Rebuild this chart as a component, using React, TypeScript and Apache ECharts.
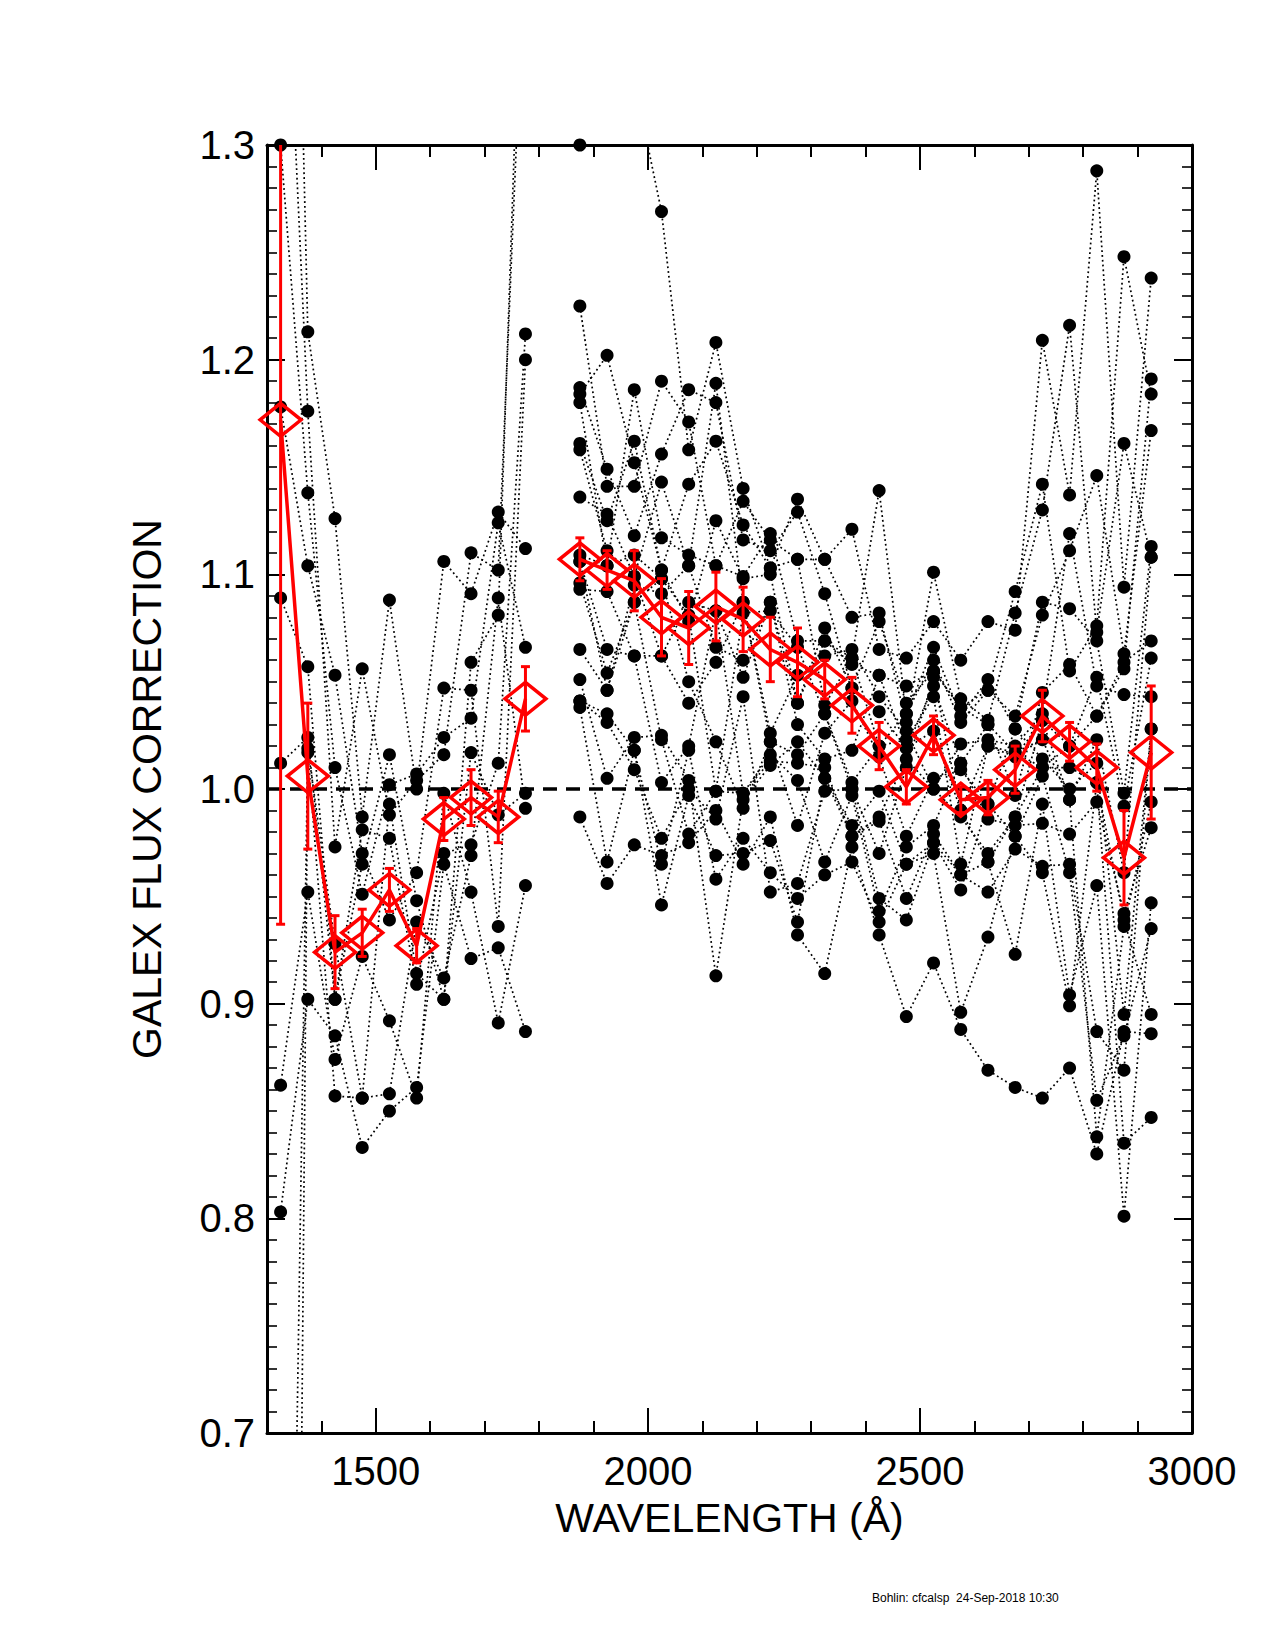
import React, { useEffect, useRef } from "react";
import * as echarts from "echarts";

// ---------- DATA ----------
// Short-wavelength segment: bin centres and the dot values seen in each bin (sorted high→low)
const leftWaves = [1325, 1375, 1425, 1475, 1525, 1575, 1625, 1675, 1725, 1775];
const leftColumns = [
  [1.75, 1.45, 1.3, 1.178, 1.089, 1.012, 0.862, 0.803, 0.22, -0.42],
  [1.213, 1.176, 1.138, 1.104, 1.057, 1.024, 1.019, 1.017, 0.952, 0.902],
  [1.126, 1.053, 1.01, 0.973, 0.928, 0.902, 0.902, 0.885, 0.874, 0.857],
  [1.056, 0.987, 0.981, 0.97, 0.965, 0.951, 0.922, 0.856, 0.856, 0.833],
  [1.088, 1.016, 1.002, 0.993, 0.988, 0.977, 0.939, 0.892, 0.858, 0.85],
  [1.007, 1.004, 1.0, 0.961, 0.948, 0.938, 0.914, 0.909, 0.861, 0.856],
  [1.106, 1.047, 1.024, 1.016, 0.998, 0.97, 0.965, 0.912, 0.902, 0.902],
  [1.11, 1.091, 1.059, 1.046, 1.033, 1.017, 0.974, 0.969, 0.952, 0.921],
  [1.129, 1.124, 1.102, 1.089, 1.081, 1.012, 0.988, 0.936, 0.926, 0.891],
  [1.45, 1.4, 1.212, 1.2, 1.112, 1.066, 0.998, 0.991, 0.955, 0.887],
];
// rank (index into the bin's list) taken by each star in each bin
const leftOrder = [
  [0, 1, 2, 3, 4, 5, 8, 9, 6, 7],
  [0, 1, 2, 3, 4, 5, 6, 7, 8, 9],
  [0, 3, 2, 1, 6, 5, 4, 9, 8, 7],
  [1, 0, 5, 3, 4, 2, 8, 7, 6, 9],
  [0, 4, 2, 6, 1, 5, 3, 8, 7, 9],
  [2, 1, 0, 3, 4, 7, 6, 5, 9, 8],
  [0, 3, 2, 1, 8, 5, 9, 7, 4, 6],
  [1, 0, 4, 3, 2, 6, 5, 7, 8, 9],
  [0, 2, 1, 7, 4, 5, 6, 3, 9, 8],
  [4, 1, 5, 3, 0, 2, 6, 7, 8, 9],
];

// Long-wavelength segment
const rightWaves = [
  1875, 1925, 1975, 2025, 2075, 2125, 2175, 2225, 2275, 2325, 2375, 2425, 2475, 2525,
  2575, 2625, 2675, 2725, 2775, 2825, 2875, 2925,
];
const rightColumns = [
  [1.3, 1.225, 1.187, 1.184, 1.18, 1.161, 1.158, 1.136, 1.109, 1.106, 1.106, 1.096, 1.093, 1.065, 1.051, 1.041, 1.041, 1.038, 0.987],
  [1.35, 1.202, 1.149, 1.141, 1.128, 1.125, 1.111, 1.104, 1.104, 1.092, 1.065, 1.054, 1.046, 1.046, 1.035, 1.031, 1.005, 0.966, 0.956],
  [1.33, 1.186, 1.162, 1.152, 1.141, 1.118, 1.109, 1.099, 1.099, 1.095, 1.087, 1.087, 1.062, 1.062, 1.024, 1.018, 1.018, 1.009, 0.974],
  [1.269, 1.19, 1.156, 1.143, 1.117, 1.102, 1.102, 1.098, 1.098, 1.091, 1.062, 1.062, 1.025, 1.023, 1.003, 0.977, 0.969, 0.965, 0.946],
  [1.186, 1.171, 1.158, 1.142, 1.109, 1.104, 1.104, 1.087, 1.081, 1.078, 1.05, 1.04, 1.02, 1.018, 1.004, 1.0, 0.997, 0.979, 0.975],
  [1.208, 1.189, 1.18, 1.162, 1.125, 1.104, 1.104, 1.083, 1.083, 1.066, 1.059, 1.022, 0.999, 0.999, 0.99, 0.986, 0.969, 0.958, 0.913],
  [1.14, 1.134, 1.123, 1.116, 1.099, 1.098, 1.087, 1.087, 1.082, 1.06, 1.052, 1.043, 0.998, 0.998, 0.995, 0.991, 0.977, 0.97, 0.965],
  [1.119, 1.116, 1.111, 1.103, 1.103, 1.1, 1.087, 1.087, 1.083, 1.026, 1.022, 1.022, 1.016, 1.013, 1.011, 0.987, 0.976, 0.961, 0.952],
  [1.135, 1.129, 1.107, 1.107, 1.069, 1.066, 1.053, 1.04, 1.04, 1.03, 1.022, 1.016, 1.012, 1.004, 0.983, 0.956, 0.949, 0.938, 0.932],
  [1.107, 1.107, 1.091, 1.075, 1.069, 1.069, 1.062, 1.039, 1.035, 1.035, 1.026, 1.014, 1.01, 1.005, 1.005, 0.999, 0.966, 0.96, 0.914],
  [1.121, 1.08, 1.065, 1.061, 1.061, 1.058, 1.047, 1.047, 1.041, 1.018, 1.003, 1.0, 1.0, 0.997, 0.983, 0.978, 0.978, 0.973, 0.966],
  [1.139, 1.082, 1.078, 1.065, 1.053, 1.053, 1.043, 1.036, 1.02, 1.02, 1.015, 0.999, 0.987, 0.985, 0.97, 0.949, 0.943, 0.938, 0.932],
  [1.061, 1.048, 1.04, 1.035, 1.035, 1.031, 1.027, 1.023, 1.019, 1.019, 1.014, 1.01, 0.978, 0.973, 0.965, 0.965, 0.949, 0.939, 0.894],
  [1.101, 1.078, 1.066, 1.06, 1.055, 1.055, 1.052, 1.048, 1.043, 1.027, 1.005, 1.0, 1.0, 0.983, 0.979, 0.975, 0.975, 0.97, 0.919],
  [1.06, 1.042, 1.038, 1.038, 1.034, 1.031, 1.021, 1.012, 1.012, 1.009, 0.99, 0.99, 0.987, 0.965, 0.96, 0.96, 0.953, 0.896, 0.888],
  [1.078, 1.051, 1.046, 1.046, 1.032, 1.03, 1.03, 1.023, 1.02, 1.02, 0.993, 0.993, 0.986, 0.97, 0.966, 0.966, 0.952, 0.931, 0.869],
  [1.092, 1.082, 1.074, 1.034, 1.028, 1.028, 1.02, 1.017, 1.017, 1.015, 0.997, 0.987, 0.987, 0.983, 0.978, 0.978, 0.972, 0.923, 0.861],
  [1.209, 1.142, 1.13, 1.087, 1.081, 1.045, 1.035, 1.032, 1.032, 1.023, 1.014, 1.01, 1.01, 1.006, 0.993, 0.984, 0.964, 0.961, 0.856],
  [1.216, 1.137, 1.119, 1.111, 1.084, 1.058, 1.055, 1.02, 1.02, 1.01, 1.0, 0.995, 0.995, 0.979, 0.965, 0.961, 0.904, 0.899, 0.87],
  [1.288, 1.146, 1.076, 1.073, 1.069, 1.052, 1.048, 1.034, 1.034, 1.023, 1.012, 1.003, 1.003, 0.994, 0.955, 0.887, 0.855, 0.838, 0.83],
  [1.248, 1.161, 1.094, 1.063, 1.059, 1.056, 1.044, 0.998, 0.992, 0.961, 0.942, 0.939, 0.936, 0.895, 0.887, 0.885, 0.869, 0.835, 0.801],
  [1.238, 1.191, 1.184, 1.167, 1.113, 1.108, 1.108, 1.069, 1.061, 1.043, 1.028, 1.028, 0.994, 0.982, 0.947, 0.935, 0.895, 0.886, 0.847],
];
const rightOrder = [
  [0, 1, 2, 3, 4, 5, 6, 7, 8, 9, 10, 11, 12, 13, 14, 15, 16, 17, 18],
  [0, 3, 2, 1, 7, 5, 6, 4, 8, 12, 10, 11, 9, 13, 16, 15, 14, 17, 18],
  [0, 4, 5, 3, 1, 2, 8, 7, 6, 9, 13, 11, 12, 10, 14, 17, 16, 15, 18],
  [0, 1, 2, 6, 4, 5, 3, 11, 8, 9, 10, 7, 14, 13, 12, 15, 18, 17, 16],
  [2, 1, 0, 3, 4, 9, 6, 7, 8, 5, 11, 10, 12, 17, 14, 15, 16, 13, 18],
  [0, 6, 2, 3, 5, 4, 1, 7, 12, 9, 10, 11, 8, 13, 18, 15, 16, 17, 14],
  [0, 1, 3, 2, 4, 5, 6, 10, 8, 9, 7, 15, 12, 13, 14, 11, 17, 16, 18],
  [4, 1, 2, 3, 0, 5, 9, 7, 8, 6, 10, 11, 13, 12, 14, 18, 16, 17, 15],
  [0, 2, 1, 3, 4, 8, 6, 7, 5, 9, 14, 11, 12, 13, 10, 15, 17, 16, 18],
  [1, 0, 2, 7, 4, 5, 6, 3, 8, 11, 10, 9, 12, 16, 14, 15, 13, 17, 18],
  [0, 1, 6, 3, 4, 5, 2, 7, 10, 9, 8, 11, 15, 13, 14, 12, 16, 18, 17],
  [3, 1, 2, 0, 9, 5, 6, 7, 8, 4, 10, 14, 12, 16, 11, 15, 13, 17, 18],
  [0, 5, 2, 3, 4, 1, 6, 8, 7, 9, 12, 11, 10, 13, 14, 17, 16, 15, 18],
  [1, 0, 4, 3, 2, 5, 11, 7, 8, 9, 10, 6, 12, 13, 16, 15, 14, 17, 18],
  [0, 1, 2, 5, 4, 3, 6, 7, 13, 10, 9, 11, 12, 8, 14, 16, 15, 17, 18],
  [0, 4, 2, 3, 1, 5, 7, 6, 8, 9, 10, 15, 13, 12, 14, 11, 16, 17, 18],
  [2, 1, 0, 3, 4, 10, 6, 7, 9, 8, 5, 11, 12, 13, 17, 15, 16, 14, 18],
  [0, 2, 1, 4, 3, 5, 6, 12, 8, 9, 10, 11, 7, 15, 14, 13, 16, 17, 18],
  [1, 0, 6, 3, 4, 5, 2, 7, 8, 11, 10, 9, 12, 13, 16, 15, 14, 17, 18],
  [0, 3, 2, 1, 4, 8, 6, 7, 5, 9, 10, 11, 17, 13, 14, 16, 15, 12, 18],
  [2, 1, 0, 3, 7, 5, 6, 4, 8, 9, 13, 11, 12, 10, 18, 15, 16, 17, 14],
  [0, 5, 2, 3, 4, 1, 9, 7, 8, 6, 10, 16, 12, 13, 14, 15, 11, 18, 17],
];

// Mean correction (red diamonds) and its error
const meanValuesLeft = [1.172, 1.006, 0.924, 0.933, 0.953, 0.927, 0.986, 0.996, 0.987, 1.042];
const meanErrorsLeft = [0.235, 0.034, 0.017, 0.011, 0.01, 0.008, 0.01, 0.013, 0.012, 0.015];
const meanValuesRight = [
  1.107, 1.102, 1.097, 1.08, 1.075, 1.085, 1.079, 1.065, 1.059, 1.051, 1.039, 1.02, 1.001,
  1.025, 0.995, 0.996, 1.009, 1.034, 1.022, 1.01, 0.968, 1.017,
];
const meanErrorsRight = [
  0.01, 0.009, 0.014, 0.018, 0.017, 0.016, 0.015, 0.015, 0.016, 0.009, 0.013, 0.011, 0.008,
  0.009, 0.006, 0.008, 0.011, 0.012, 0.009, 0.011, 0.022, 0.031,
];

const xMajorTicks = [1500, 2000, 2500, 3000];
const referenceLevel = 1.0;

// ---------- CHART ----------
const FONT = "'Liberation Sans', Arial, Helvetica, sans-serif";
const RED = "#ff0000";

function buildStars(waves: number[], columns: number[][], order: number[][]) {
  const n = order[0].length;
  const stars: number[][][] = [];
  for (let i = 0; i < n; i++) {
    stars.push(waves.map((w, c) => [w, columns[c][order[c][i]]]));
  }
  return stars;
}

function errorSeries(waves: number[], means: number[], errs: number[]) {
  return {
    type: "custom",
    clip: true,
    z: 6,
    silent: true,
    encode: { x: 0, y: [1, 2] },
    data: waves.map((w, i) => [w, means[i] - errs[i], means[i] + errs[i]]),
    renderItem: (params: any, api: any) => {
      const x = api.value(0);
      const lo = api.coord([x, api.value(1)]);
      const hi = api.coord([x, api.value(2)]);
      const cap = 4.5;
      const style = { stroke: RED, lineWidth: 3, fill: "none" };
      return {
        type: "group",
        children: [
          { type: "line", shape: { x1: lo[0], y1: lo[1], x2: hi[0], y2: hi[1] }, style },
          { type: "line", shape: { x1: lo[0] - cap, y1: lo[1], x2: lo[0] + cap, y2: lo[1] }, style },
          { type: "line", shape: { x1: hi[0] - cap, y1: hi[1], x2: hi[0] + cap, y2: hi[1] }, style },
        ],
      };
    },
  };
}

export default function App() {
  const ref = useRef<HTMLDivElement>(null);

  useEffect(() => {
    if (!ref.current) return;
    const chart = echarts.init(ref.current, null, { renderer: "svg" });

    const stars = [
      ...buildStars(leftWaves, leftColumns, leftOrder),
      ...buildStars(rightWaves, rightColumns, rightOrder),
    ];
    const dots: number[][] = [];
    stars.forEach((s) => s.forEach((p) => dots.push(p)));

    const starSeries = stars.map((s) => ({
      type: "line",
      data: s,
      symbol: "none",
      silent: true,
      z: 1,
      lineStyle: { color: "#000", width: 1.7, type: [1.8, 3], opacity: 1 },
    }));

    const axisLineStyle = { color: "#000", width: 3 };
    const tickStyle = { color: "#000", width: 2 };
    const labelStyle = { fontSize: 40, fontFamily: FONT, color: "#000" };

    const xBase = { type: "value", gridIndex: 0, min: 1300, max: 3000, interval: 100, splitLine: { show: false } };
    const yBase = {
      type: "value",
      min: 0.7,
      max: 1.3,
      interval: 0.1,
      splitLine: { show: false },
      axisLine: { show: true, onZero: false, lineStyle: axisLineStyle },
      axisTick: { show: true, inside: true, length: 18, lineStyle: tickStyle },
      minorTick: { show: true, splitNumber: 10, length: 10, lineStyle: { color: "#000", width: 1.6 } },
      minorSplitLine: { show: false },
    };

    const option: any = {
      animation: false,
      backgroundColor: "#fff",
      grid: { left: 267, top: 145, width: 925, height: 1288, containLabel: false },
      xAxis: [
        {
          ...xBase,
          position: "bottom",
          axisLine: { show: true, onZero: false, lineStyle: axisLineStyle },
          axisTick: { show: true, inside: true, length: 12, lineStyle: tickStyle },
          axisLabel: {
            ...labelStyle,
            margin: 18,
            formatter: (v: number) => (xMajorTicks.indexOf(Math.round(v)) >= 0 ? String(Math.round(v)) : ""),
          },
          name: "WAVELENGTH (Å)",
          nameLocation: "middle",
          nameGap: 64,
          nameTextStyle: { fontSize: 41, fontFamily: FONT, color: "#000" },
        },
        {
          ...xBase,
          position: "bottom",
          axisLine: { show: false, onZero: false },
          axisTick: { show: true, inside: true, length: 25, customValues: xMajorTicks, lineStyle: tickStyle },
          axisLabel: { show: false },
        },
        {
          ...xBase,
          position: "top",
          axisLine: { show: true, onZero: false, lineStyle: axisLineStyle },
          axisTick: { show: true, inside: true, length: 12, lineStyle: tickStyle },
          axisLabel: { show: false },
        },
        {
          ...xBase,
          position: "top",
          axisLine: { show: false, onZero: false },
          axisTick: { show: true, inside: true, length: 25, customValues: xMajorTicks, lineStyle: tickStyle },
          axisLabel: { show: false },
        },
      ],
      yAxis: [
        {
          ...yBase,
          position: "left",
          axisLabel: { ...labelStyle, margin: 12, formatter: (v: number) => v.toFixed(1) },
          name: "GALEX FLUX CORRECTION",
          nameLocation: "middle",
          nameRotate: 90,
          nameGap: 100,
          nameTextStyle: { fontSize: 41, fontFamily: FONT, color: "#000" },
        },
        {
          ...yBase,
          position: "right",
          axisLabel: { show: false },
        },
      ],
      series: [
        ...starSeries,
        {
          type: "scatter",
          data: dots,
          symbol: "circle",
          symbolSize: 13,
          silent: true,
          z: 2,
          itemStyle: { color: "#000", opacity: 1 },
        },
        {
          type: "line",
          data: [
            [1300, referenceLevel],
            [3000, referenceLevel],
          ],
          symbol: "none",
          silent: true,
          z: 3,
          lineStyle: { color: "#000", width: 3.5, type: [14, 9] },
        },
        {
          type: "line",
          data: leftWaves.map((w, i) => [w, meanValuesLeft[i]]),
          symbol: "diamond",
          symbolSize: [41, 33],
          showSymbol: true,
          silent: true,
          z: 5,
          lineStyle: { color: RED, width: 3.5 },
          itemStyle: { color: "rgba(0,0,0,0)", borderColor: RED, borderWidth: 3.5 },
        },
        {
          type: "line",
          data: rightWaves.map((w, i) => [w, meanValuesRight[i]]),
          symbol: "diamond",
          symbolSize: [41, 33],
          showSymbol: true,
          silent: true,
          z: 5,
          lineStyle: { color: RED, width: 3.5 },
          itemStyle: { color: "rgba(0,0,0,0)", borderColor: RED, borderWidth: 3.5 },
        },
        errorSeries(leftWaves, meanValuesLeft, meanErrorsLeft),
        errorSeries(rightWaves, meanValuesRight, meanErrorsRight),
      ],
      graphic: [
        {
          type: "text",
          left: 872,
          top: 1592,
          style: {
            text: "Bohlin: cfcalsp  24-Sep-2018 10:30",
            fontSize: 12,
            fontFamily: FONT,
            fill: "#000",
          },
        },
      ],
    };

    chart.setOption(option);
    return () => chart.dispose();
  }, []);

  return (
    <div
      ref={ref}
      style={{ position: "absolute", left: 0, top: 0, width: 1275, height: 1650, background: "#fff" }}
    />
  );
}
